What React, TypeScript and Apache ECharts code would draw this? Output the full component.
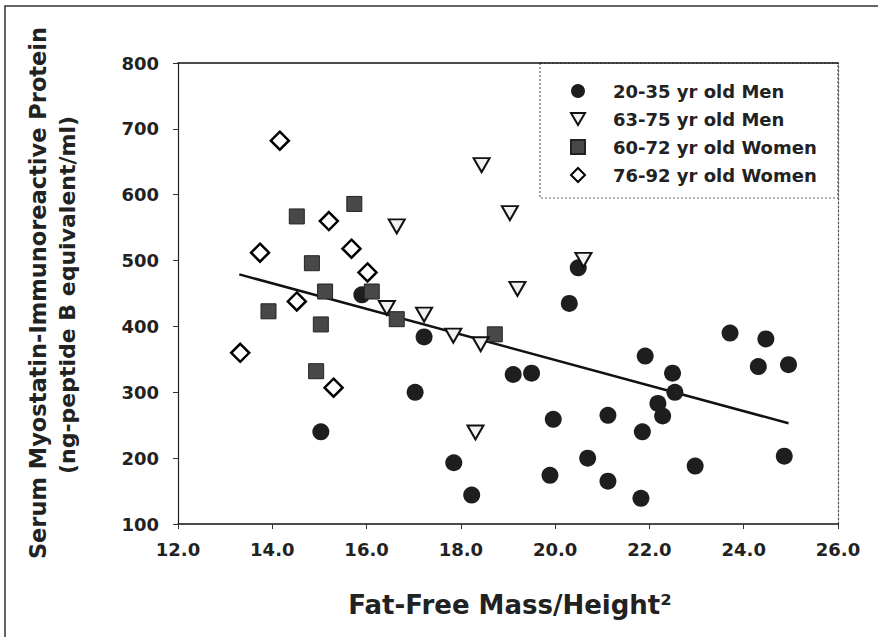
import React, { useEffect, useRef } from "react";
import * as echarts from "echarts";

// 20-35 yr old Men (filled circles)
const men2035: [number, number][] = [
  [15.9, 448], [15.03, 240], [17.03, 300], [17.22, 384], [17.85, 193], [18.23, 144],
  [19.11, 327], [19.5, 329], [19.96, 259], [19.89, 174], [20.3, 435], [20.49, 489],
  [20.69, 200], [21.12, 265], [21.12, 165], [21.82, 139], [21.85, 240], [21.91, 355],
  [22.18, 283], [22.28, 264], [22.49, 329], [22.54, 300], [22.97, 188], [23.71, 390],
  [24.31, 339], [24.47, 381], [24.86, 203], [24.95, 342],
];
// 63-75 yr old Men (open inverted triangles)
const men6375: [number, number][] = [
  [16.43, 428], [16.64, 552], [17.22, 418], [17.84, 386], [18.42, 373], [18.31, 239],
  [18.44, 645], [19.04, 572], [19.2, 457], [20.6, 501],
];
// 60-72 yr old Women (filled squares)
const women6072: [number, number][] = [
  [13.92, 423], [14.52, 567], [14.84, 496], [15.12, 453], [15.03, 403], [14.93, 332],
  [15.74, 586], [16.11, 453], [16.64, 411], [18.72, 388],
];
// 76-92 yr old Women (open diamonds)
const women7692: [number, number][] = [
  [13.32, 360], [13.74, 512], [14.16, 682], [14.52, 438], [15.2, 560], [15.3, 307],
  [15.68, 518], [16.02, 482],
];
// regression line end points
const regression: [number, number][] = [[13.3, 479], [24.95, 253]];

const seriesNames = ["20-35 yr old Men", "63-75 yr old Men", "60-72 yr old Women", "76-92 yr old Women"];
const xTitle = "Fat-Free Mass/Height²";
const yTitle1 = "Serum Myostatin-Immunoreactive Protein";
const yTitle2 = "(ng-peptide B equivalent/ml)";

const FONT = "DejaVu Sans";
const INV_TRIANGLE = "path://M0,0L20,0L10,17Z";

export default function App() {
  const ref = useRef<HTMLDivElement>(null);
  useEffect(() => {
    if (!ref.current) return;
    const chart = echarts.init(ref.current, null, { renderer: "svg" });
    const labelStyle = { fontFamily: FONT, fontSize: 18, fontWeight: "bold" as const, color: "#222" };
    chart.setOption({
      animation: false,
      backgroundColor: "#ffffff",
      grid: { left: 178, right: 40, top: 63, bottom: 113, containLabel: false },
      xAxis: [
        {
          type: "value", min: 12, max: 26, interval: 2,
          axisLine: { show: true, onZero: false, lineStyle: { color: "#111", width: 1.5 } },
          axisTick: { show: true, inside: false, length: 5, lineStyle: { color: "#333" } },
          splitLine: { show: false },
          axisLabel: { ...labelStyle, margin: 16, formatter: (v: number) => v.toFixed(1) },
        },
        {
          type: "value", position: "top", min: 12, max: 26, interval: 2,
          axisLine: { show: true, onZero: false, lineStyle: { color: "#111", width: 1.5 } },
          axisTick: { show: false }, axisLabel: { show: false }, splitLine: { show: false },
        },
      ],
      yAxis: [
        {
          type: "value", min: 100, max: 800, interval: 100,
          axisLine: { show: true, onZero: false, lineStyle: { color: "#222", width: 1.2 } },
          axisTick: { show: true, inside: false, length: 5, lineStyle: { color: "#333" } },
          splitLine: { show: false },
          axisLabel: { ...labelStyle, margin: 19 },
        },
        {
          type: "value", position: "right", min: 100, max: 800, interval: 100,
          axisLine: { show: true, onZero: false, lineStyle: { color: "#555", width: 1.2, type: [2, 2] } },
          axisTick: { show: false }, axisLabel: { show: false }, splitLine: { show: false },
        },
      ],
      legend: {
        orient: "vertical",
        left: 570,
        top: 82,
        padding: 0,
        itemWidth: 14,
        itemHeight: 14,
        itemGap: 10,
        data: [
          { name: seriesNames[0], icon: "circle" },
          { name: seriesNames[1], icon: INV_TRIANGLE },
          { name: seriesNames[2], icon: "rect" },
          { name: seriesNames[3], icon: "diamond" },
        ],
        textStyle: { fontFamily: FONT, fontSize: 18, fontWeight: "bold", color: "#222", padding: [0, 0, 0, 23] },
      },
      series: [
        {
          type: "line", data: regression, symbol: "none", z: 1,
          lineStyle: { color: "#111", width: 2.5 }, silent: true,
        },
        {
          name: seriesNames[0], type: "scatter", data: men2035, symbol: "circle", symbolSize: 17, z: 3,
          itemStyle: { color: "#1e1e1e", opacity: 1 },
        },
        {
          name: seriesNames[1], type: "scatter", data: men6375, symbol: INV_TRIANGLE,
          symbolSize: [16, 14], z: 4,
          itemStyle: { color: "#f2f2f2", borderColor: "#111", borderWidth: 2, opacity: 1 },
        },
        {
          name: seriesNames[2], type: "scatter", data: women6072, symbol: "rect", symbolSize: 15, z: 3,
          itemStyle: { color: "#484848", borderColor: "#222", borderWidth: 1, opacity: 1 },
        },
        {
          name: seriesNames[3], type: "scatter", data: women7692, symbol: "diamond", symbolSize: [18, 18], z: 4,
          itemStyle: { color: "#ffffff", borderColor: "#000", borderWidth: 2.5, opacity: 1 },
        },
      ],
      graphic: [
        {
          type: "polyline", silent: true,
          shape: { points: [[5, 637], [5, 6], [878, 6]] },
          style: { stroke: "#333", lineWidth: 1.5, fill: "none" },
        },
        {
          type: "rect", silent: true, z: 0,
          shape: { x: 540, y: 63, width: 298, height: 135 },
          style: { stroke: "#666", lineWidth: 1.2, lineDash: [2, 2], fill: "none" },
        },
        {
          type: "text", x: 38, y: 293, rotation: Math.PI / 2,
          style: { text: yTitle1, font: `bold 22.5px "${FONT}"`, fill: "#222", align: "center", verticalAlign: "middle" },
        },
        {
          type: "text", x: 67, y: 295, rotation: Math.PI / 2,
          style: { text: yTitle2, font: `bold 22px "${FONT}"`, fill: "#222", align: "center", verticalAlign: "middle" },
        },
        {
          type: "text", x: 510, y: 605,
          style: { text: xTitle, font: `bold 26px "${FONT}"`, fill: "#222", align: "center", verticalAlign: "middle" },
        },
      ],
    });
    return () => chart.dispose();
  }, []);
  return <div ref={ref} style={{ width: 878, height: 637, position: "absolute", left: 0, top: 0 }} />;
}
